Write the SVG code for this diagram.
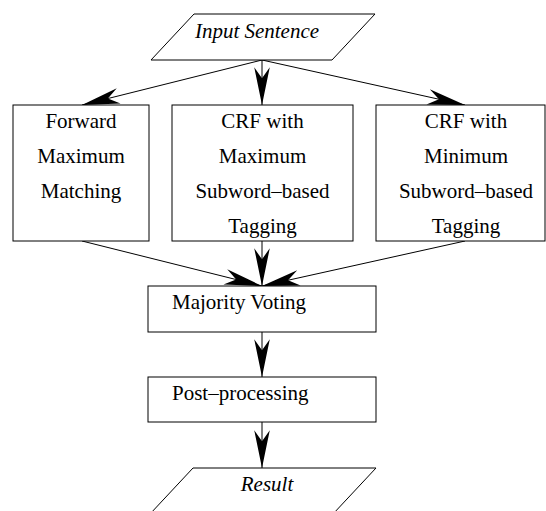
<svg xmlns="http://www.w3.org/2000/svg" width="546" height="511" viewBox="0 0 546 511">
<style>
.shape{fill:#fff;stroke:#000;stroke-width:1}
.t{font-family:"Liberation Serif",serif;font-size:21px;fill:#000}
.i{font-style:italic}
.c{text-anchor:middle}
.ln{stroke:#000;stroke-width:1;fill:none;marker-end:url(#ah)}
</style>
<defs>
<marker id="ah" markerUnits="userSpaceOnUse" markerWidth="40" markerHeight="20" viewBox="-35 -8 36 16" refX="0" refY="0" orient="auto">
<path d="M0,0 L-34,-7 L-24,0 L-34,7 Z" fill="#000"/>
</marker>
</defs>
<rect width="546" height="511" fill="#fff"/>
<g id="connectors">
<line class="ln" x1="262" y1="60" x2="82" y2="105"/>
<line class="ln" x1="262" y1="60" x2="262" y2="105"/>
<line class="ln" x1="262" y1="60" x2="465" y2="105"/>
<line class="ln" x1="82" y1="241" x2="262" y2="286"/>
<line class="ln" x1="262" y1="241" x2="262" y2="286"/>
<line class="ln" x1="465" y1="241" x2="262" y2="286"/>
<line class="ln" x1="262" y1="332" x2="262" y2="377"/>
<line class="ln" x1="262" y1="422" x2="262" y2="468"/>
</g>
<g font-family="Liberation Serif, Times New Roman, serif" font-size="21">
<g id="input">
<polygon class="shape" points="194,14 375,14 332,60 151,60"/>
<text class="t i c" font-family="Liberation Serif, serif" x="257" y="38">Input Sentence</text>
</g>
<g id="fmm">
<rect class="shape" x="13" y="105" width="136" height="136"/>
<text class="t c" font-family="Liberation Serif, serif" x="81" y="128">Forward</text>
<text class="t c" font-family="Liberation Serif, serif" x="81" y="163">Maximum</text>
<text class="t c" font-family="Liberation Serif, serif" x="81" y="198">Matching</text>
</g>
<g id="crfmax">
<rect class="shape" x="172" y="105" width="181" height="136"/>
<text class="t c" font-family="Liberation Serif, serif" x="262.5" y="128">CRF with</text>
<text class="t c" font-family="Liberation Serif, serif" x="262.5" y="163">Maximum</text>
<text class="t c" font-family="Liberation Serif, serif" x="262.5" y="198">Subword–based</text>
<text class="t c" font-family="Liberation Serif, serif" x="262.5" y="233">Tagging</text>
</g>
<g id="crfmin">
<rect class="shape" x="376" y="105" width="169" height="136"/>
<text class="t c" font-family="Liberation Serif, serif" x="466" y="128">CRF with</text>
<text class="t c" font-family="Liberation Serif, serif" x="466" y="163">Minimum</text>
<text class="t c" font-family="Liberation Serif, serif" x="466" y="198">Subword–based</text>
<text class="t c" font-family="Liberation Serif, serif" x="466" y="233">Tagging</text>
</g>
<g id="voting">
<rect class="shape" x="148" y="286" width="228" height="46"/>
<text class="t" font-family="Liberation Serif, serif" x="172" y="309">Majority Voting</text>
</g>
<g id="post">
<rect class="shape" x="148" y="377" width="228" height="45"/>
<text class="t" font-family="Liberation Serif, serif" x="172" y="400">Post–processing</text>
</g>
<g id="result">
<polygon class="shape" points="193,468 376,468 333,514 150,514"/>
<text class="t i c" font-family="Liberation Serif, serif" x="267" y="491">Result</text>
</g>
</g>
</svg>
